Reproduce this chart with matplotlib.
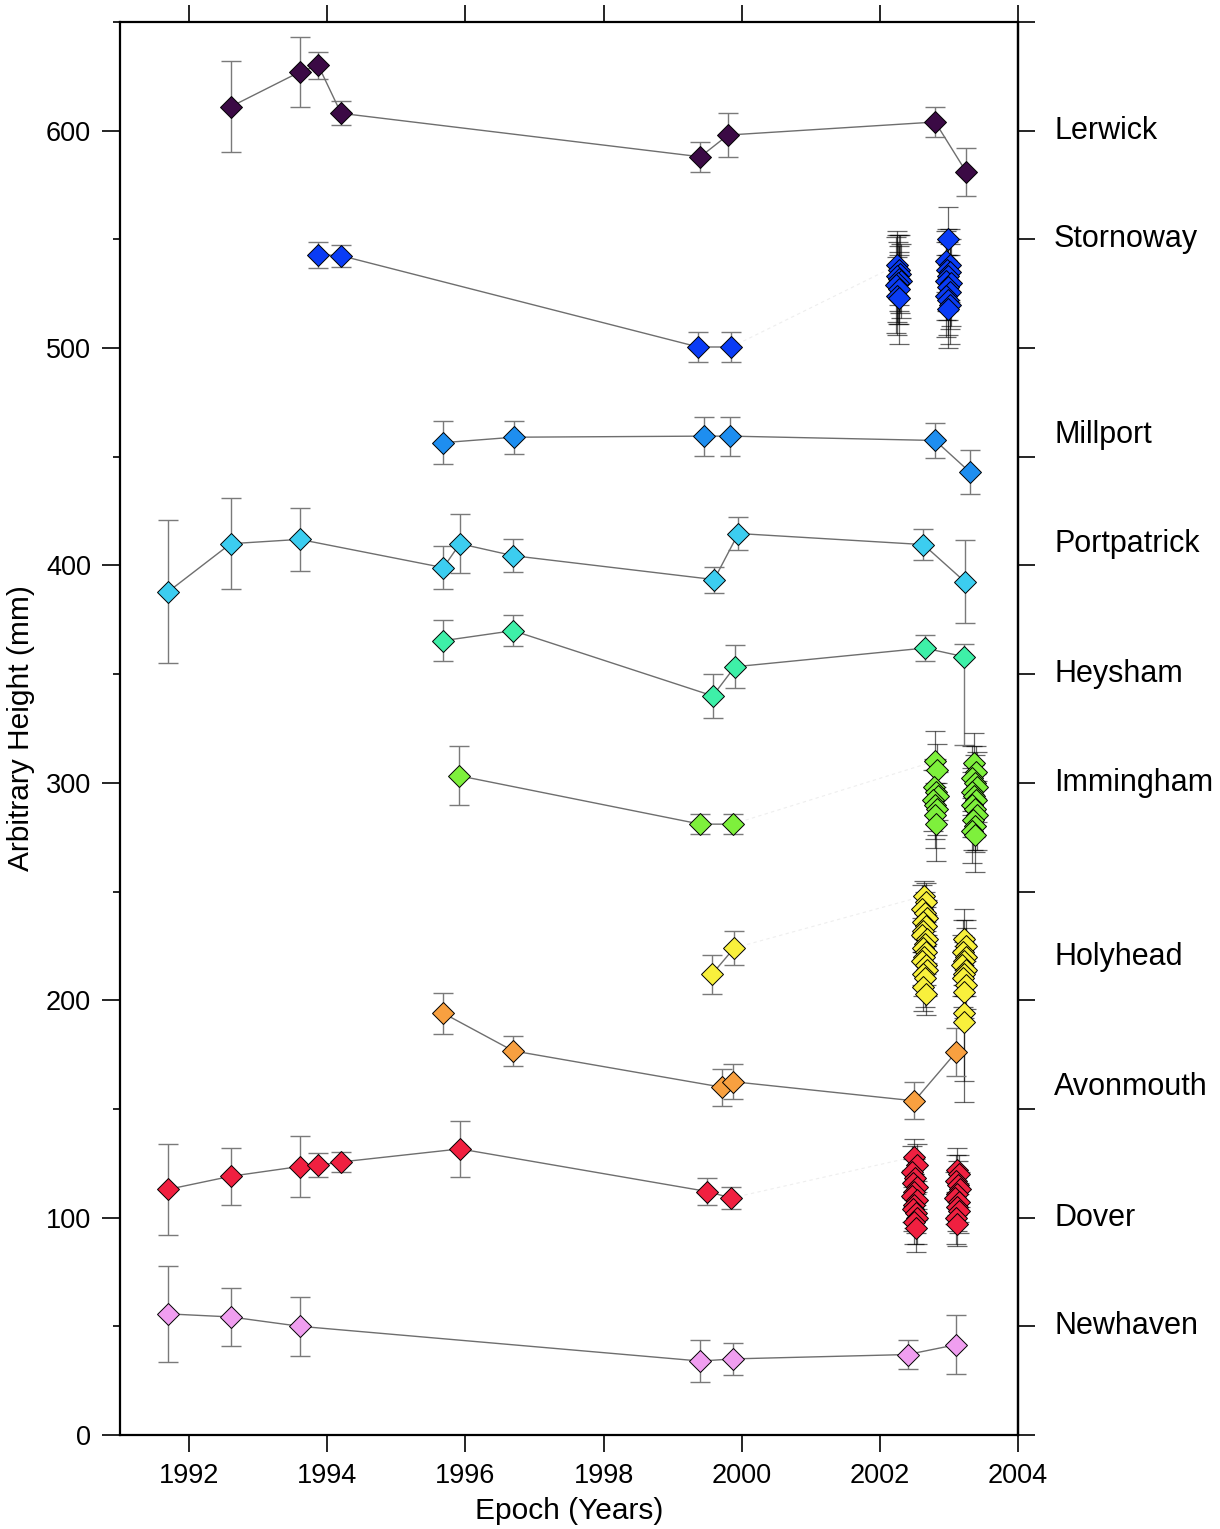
import matplotlib
matplotlib.use("Agg")
import matplotlib.pyplot as plt
from matplotlib.ticker import MultipleLocator
from matplotlib.transforms import blended_transform_factory

plt.rcParams['font.family'] = ['Liberation Sans', 'DejaVu Sans']

# station name, label height, colour
stations = ['Lerwick', 'Stornoway', 'Millport', 'Portpatrick', 'Heysham',
            'Immingham', 'Holyhead', 'Avonmouth', 'Dover', 'Newhaven']
label_y = [600, 550, 460, 410, 350, 300, 220, 160, 100, 50]
colors = ['#3b0a45', '#0a3cf5', '#1e8ef0', '#3ccdf0', '#3ef0a8',
          '#7ef03c', '#f8f03c', '#f8a040', '#f02040', '#f09ef0']

# campaign epochs (connected by a line)
lerwick_x = [1992.6, 1993.6, 1993.87, 1994.2, 1999.4, 1999.8, 2002.8, 2003.25]
lerwick_y = [611, 627, 630, 608, 588, 598, 604, 581]
lerwick_e = [21, 16, 6, 5.5, 7, 10, 7, 11]

stornoway_x = [1993.87, 1994.2, 1999.37, 1999.85]
stornoway_y = [543, 542.5, 500.5, 500.5]
stornoway_e = [6, 5, 7, 7]

millport_x = [1995.68, 1996.7, 1999.46, 1999.83, 2002.8, 2003.3]
millport_y = [456.5, 459, 459.5, 459.5, 457.5, 443]
millport_e = [10, 7.5, 9, 9, 8, 10]

portpatrick_x = [1991.7, 1992.6, 1993.6, 1995.68, 1995.92, 1996.69, 1999.6,
                 1999.95, 2002.63, 2003.23]
portpatrick_y = [388, 410, 412, 399, 410, 404.5, 393.5, 414.7, 409.6, 392.5]
portpatrick_e = [33, 21, 14.5, 10, 13.5, 7.5, 6, 7.5, 7, 19]

heysham_x = [1995.68, 1996.69, 1999.58, 1999.9, 2002.65, 2003.22]
heysham_y = [365.4, 370, 340, 353.4, 362, 358]
heysham_e_lo = [9.5, 7, 10, 10, 6, 40.5]
heysham_e_hi = [9.5, 7, 10, 10, 6, 6]

immingham_x = [1995.9, 1999.4, 1999.87]
immingham_y = [303.3, 281, 281]
immingham_e = [13.5, 4.5, 4.5]

holyhead_x = [1999.57, 1999.89]
holyhead_y = [212, 224]
holyhead_e = [9, 8]

avonmouth_x = [1995.68, 1996.69, 1999.71, 1999.88, 2002.5, 2003.1]
avonmouth_y = [194, 176.7, 160, 162.5, 153.7, 176]
avonmouth_e = [9.5, 7, 8.5, 8, 8.5, 11]

dover_x = [1991.7, 1992.6, 1993.6, 1993.87, 1994.2, 1995.92, 1999.5, 1999.85]
dover_y = [113, 119, 123.5, 124, 125.6, 131.6, 112, 109]
dover_e = [21, 13, 14, 5.5, 4.5, 13, 6, 5]

newhaven_x = [1991.7, 1992.6, 1993.6, 1999.4, 1999.88, 2002.4, 2003.1]
newhaven_y = [55.7, 54.3, 50, 34, 35, 37, 41.5]
newhaven_e = [22, 13.5, 13.5, 9.5, 7.5, 6.5, 13.5]

# continuous GPS clusters (2002-2003)
stornoway_cx = [2002.24, 2002.27, 2002.29, 2002.25, 2002.28, 2002.3, 2002.26,
                2002.23, 2002.27, 2002.25, 2002.28,
                2002.98, 2002.95, 2003.01, 2002.97, 2003.02, 2002.99, 2002.96,
                2003.03, 2002.98, 2003.01, 2002.96, 2002.99, 2003.02, 2002.98]
stornoway_cy = [538, 536, 534, 533, 532, 531, 530, 529, 527, 524, 523,
                550, 540, 538, 536, 535, 533, 531, 530, 528, 526, 524, 522,
                520, 518]
stornoway_ce = [14, 16, 18, 21, 15, 17, 19, 22, 16, 18, 21,
                15, 14, 17, 19, 13, 16, 18, 20, 15, 17, 19, 16, 18, 18]

immingham_cx = [2002.8, 2002.83, 2002.78, 2002.81, 2002.84, 2002.77, 2002.8,
                2002.83, 2002.79, 2002.81,
                2003.36, 2003.39, 2003.34, 2003.37, 2003.4, 2003.33, 2003.36,
                2003.39, 2003.34, 2003.37, 2003.4, 2003.35, 2003.38, 2003.34,
                2003.37]
immingham_cy = [310, 306, 298, 296, 294, 292, 290, 288, 285, 281,
                309, 305, 302, 300, 298, 296, 294, 292, 290, 288, 285, 283,
                280, 278, 276]
immingham_ce = [14, 12, 13, 15, 11, 14, 16, 12, 15, 17,
                14, 12, 15, 13, 16, 11, 14, 12, 15, 13, 16, 14, 12, 15, 17]

holyhead_cx = [2002.64, 2002.67, 2002.61, 2002.65, 2002.68, 2002.62, 2002.66,
               2002.63, 2002.61, 2002.68, 2002.65, 2002.62, 2002.67, 2002.64,
               2002.61, 2002.66, 2002.68, 2002.62, 2002.65, 2002.63, 2002.66,
               2003.22, 2003.25, 2003.2, 2003.24, 2003.22, 2003.19,
               2003.25, 2003.22, 2003.2, 2003.24, 2003.22, 2003.22, 2003.21]
holyhead_cy = [248, 245, 242, 240, 238, 236, 234, 232, 230, 228, 226, 224,
               222, 220, 218, 216, 214, 212, 210, 206, 203,
               228, 225, 222, 220, 218, 216, 214, 212, 210, 207, 204, 194, 190]
holyhead_ce = [7, 9, 11, 10, 8, 12, 9, 10, 8, 11, 9, 12, 10, 8, 11, 9, 12,
               10, 13, 11, 10,
               14, 12, 15, 13, 11, 14, 12, 10, 13, 11, 12, 31, 37]

dover_cx = [2002.5, 2002.53, 2002.47, 2002.51, 2002.48, 2002.54, 2002.5,
            2002.47, 2002.53, 2002.5, 2002.48, 2002.52, 2002.54, 2002.49,
            2002.52,
            2003.12, 2003.15, 2003.1, 2003.13, 2003.16, 2003.12, 2003.09,
            2003.15, 2003.11, 2003.14, 2003.1, 2003.12]
dover_cy = [128, 124, 121, 118, 116, 114, 112, 110, 108, 106, 104, 102, 100,
            98, 95,
            122, 120, 117, 115, 113, 111, 109, 107, 105, 103, 100, 97]
dover_ce = [8, 10, 12, 9, 11, 10, 8, 12, 9, 11, 10, 9, 12, 10, 11,
            10, 9, 12, 11, 8, 10, 12, 9, 11, 10, 12, 10]

campaigns = [
    (lerwick_x, lerwick_y, lerwick_e),
    (stornoway_x, stornoway_y, stornoway_e),
    (millport_x, millport_y, millport_e),
    (portpatrick_x, portpatrick_y, portpatrick_e),
    (heysham_x, heysham_y, [heysham_e_lo, heysham_e_hi]),
    (immingham_x, immingham_y, immingham_e),
    (holyhead_x, holyhead_y, holyhead_e),
    (avonmouth_x, avonmouth_y, avonmouth_e),
    (dover_x, dover_y, dover_e),
    (newhaven_x, newhaven_y, newhaven_e),
]
clusters = {
    1: (stornoway_cx, stornoway_cy, stornoway_ce),
    5: (immingham_cx, immingham_cy, immingham_ce),
    6: (holyhead_cx, holyhead_cy, holyhead_ce),
    8: (dover_cx, dover_cy, dover_ce),
}

fig = plt.figure(figsize=(12.2, 15.29), dpi=100)
ax = fig.add_axes([0.0984, 0.0615, 0.7361, 0.9241])

ms = 11.5
for i, (x, y, e) in enumerate(campaigns):
    c = colors[i]
    if i in clusters:
        cx, cy, ce = clusters[i]
        # faint link from the campaigns to the continuous data
        ax.plot([x[-1], cx[0]], [y[-1], cy[0]], color='#eeeeee', lw=0.8,
                ls=(0, (3, 3)), zorder=1)
        ax.errorbar(cx, cy, yerr=ce, fmt='none', ecolor='black', alpha=0.6,
                    elinewidth=0.9, capsize=7, capthick=0.9, zorder=2)
        ax.plot(cx, cy, 'D', ms=ms, mfc=c, mec='black', mew=0.7, zorder=4)
    ax.errorbar(x, y, yerr=e, fmt='none', ecolor='#7a7a7a',
                elinewidth=1.0, capsize=7, capthick=1.0, zorder=2)
    ax.plot(x, y, '-', color='#6e6e6e', lw=1.0, zorder=3)
    ax.plot(x, y, 'D', ms=ms, mfc=c, mec='black', mew=0.7, zorder=5)

ax.set_xlim(1991, 2004)
ax.set_ylim(0, 650)
ax.set_xticks(range(1992, 2005, 2))
ax.set_yticks(range(0, 601, 100))
ax.yaxis.set_minor_locator(MultipleLocator(50))
ax.tick_params(axis='x', which='major', top=True, direction='out',
               length=12, width=1.2, labelsize=19.5, pad=8)
ax.tick_params(axis='y', which='major', direction='out', length=13,
               width=1.2, labelsize=19.5, pad=8)
ax.tick_params(axis='y', which='minor', direction='out', length=5, width=1.2)
for s in ax.spines.values():
    s.set_linewidth(1.6)

sec = ax.secondary_yaxis('right')
sec.set_yticks(range(0, 651, 50))
sec.tick_params(direction='out', length=12, width=1.2, labelright=False)
sec.spines['right'].set_linewidth(1.6)

trans = blended_transform_factory(ax.transAxes, ax.transData)
for name, ly in zip(stations, label_y):
    ax.text(1.04, ly, name, transform=trans, va='center', ha='left',
            fontsize=22)

ax.set_xlabel('Epoch (Years)', fontsize=21.5, labelpad=6)
ax.set_ylabel('Arbitrary Height (mm)', fontsize=21.5, labelpad=8)

fig.savefig('out.png', dpi=100)
